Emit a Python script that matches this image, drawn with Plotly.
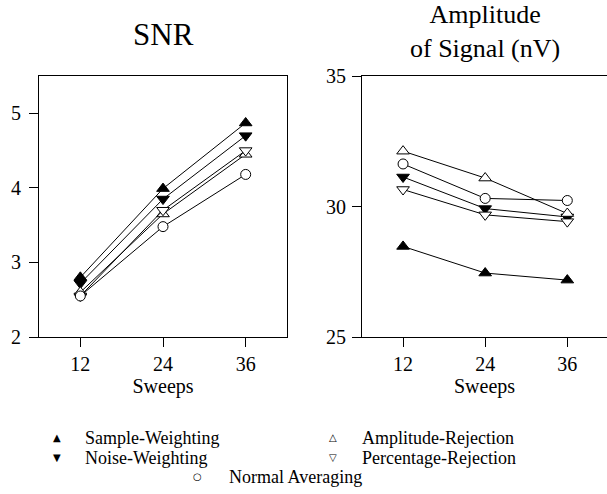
import plotly.graph_objects as go

sweeps = [12, 24, 36]
series_names = ["Sample-Weighting", "Noise-Weighting", "Amplitude-Rejection",
                "Percentage-Rejection", "Normal Averaging"]
snr_sample = [2.80, 3.99, 4.87]
snr_noise = [2.72, 3.85, 4.70]
snr_amp = [2.60, 3.65, 4.45]
snr_pct = [2.55, 3.70, 4.50]
snr_normal = [2.55, 3.48, 4.18]

amp_sample = [28.47, 27.45, 27.18]
amp_noise = [31.13, 29.92, 29.60]
amp_amp = [32.12, 31.09, 29.73]
amp_pct = [30.65, 29.68, 29.42]
amp_normal = [31.63, 30.31, 30.23]

snr_ticks = [2, 3, 4, 5]
amp_ticks = [25, 30, 35]

symbols = ["triangle-up", "triangle-down", "triangle-up", "triangle-down", "circle"]
fills = ["black", "black", "white", "white", "white"]
legend_syms = ["▲", "▼", "△", "▽", "○"]

FONT = "Liberation Serif"

fig = go.Figure()
snr_all = [snr_sample, snr_noise, snr_amp, snr_pct, snr_normal]
amp_all = [amp_sample, amp_noise, amp_amp, amp_pct, amp_normal]
for i, name in enumerate(series_names):
    size = 11 if symbols[i] != "circle" else 10
    mk = dict(symbol=symbols[i], size=size, color=fills[i],
              line=dict(color="black", width=1))
    fig.add_trace(go.Scatter(x=sweeps, y=snr_all[i], mode="lines+markers", name=name,
                             line=dict(color="black", width=1), marker=mk,
                             xaxis="x", yaxis="y", showlegend=False))
    fig.add_trace(go.Scatter(x=sweeps, y=amp_all[i], mode="lines+markers", name=name,
                             line=dict(color="black", width=1), marker=mk,
                             xaxis="x2", yaxis="y2", showlegend=False))

W, H = 607, 494
ydom = [1 - 337 / H, 1 - 76 / H]
axis_common = dict(showgrid=False, zeroline=False, showline=True, linecolor="black",
                   linewidth=1, ticks="outside", ticklen=9, tickcolor="black",
                   automargin=False,
                   tickfont=dict(family=FONT, size=20, color="black"))

fig.update_layout(
    width=W, height=H, margin=dict(l=0, r=0, t=0, b=0),
    paper_bgcolor="white", plot_bgcolor="white",
    font=dict(family=FONT, color="black"),
    xaxis=dict(domain=[39 / W, 287 / W], range=[6, 42], tickvals=sweeps, mirror=True,
               title=dict(text="Sweeps", font=dict(family=FONT, size=20), standoff=2),
               anchor="y", **axis_common),
    yaxis=dict(domain=ydom, range=[2, 5.5], tickvals=snr_ticks, mirror=True,
               anchor="x", ticklabelstandoff=4, **axis_common),
    xaxis2=dict(domain=[362 / W, 1.0], range=[6, 41.8], tickvals=sweeps, mirror=True,
                title=dict(text="Sweeps", font=dict(family=FONT, size=20), standoff=2),
                anchor="y2", **axis_common),
    yaxis2=dict(domain=ydom, range=[25, 35], tickvals=amp_ticks, mirror=False,
                anchor="x2", ticklabelstandoff=2, **axis_common),
)

ann = []
ann.append(dict(text="SNR", x=(39 + 287) / 2 / W, y=1 - 35 / H, xref="paper", yref="paper",
                showarrow=False, xanchor="center", yanchor="middle",
                font=dict(family=FONT, size=31, color="black")))
ann.append(dict(text="Amplitude<br>of Signal (nV)", x=(362 + 607) / 2 / W, y=1 - 32 / H,
                xref="paper", yref="paper", showarrow=False, xanchor="center", yanchor="middle",
                font=dict(family=FONT, size=26, color="black")))

legend_pos = [(57, 83, 437), (57, 83, 457), (333, 360, 437), (333, 360, 457), (197, 227, 476)]
for i, name in enumerate(series_names):
    sx, tx, py = legend_pos[i]
    ann.append(dict(text=legend_syms[i], x=sx / W, y=1 - py / H, xref="paper", yref="paper",
                    showarrow=False, xanchor="center", yanchor="middle",
                    font=dict(family="DejaVu Sans", size=10, color="black")))
    ann.append(dict(text=name, x=tx / W, y=1 - (py + 1) / H, xref="paper", yref="paper",
                    showarrow=False, xanchor="left", yanchor="middle",
                    font=dict(family=FONT, size=18, color="black")))
fig.update_layout(annotations=ann)

fig.write_html("out.html", config={"displayModeBar": False},
               post_script="document.body.style.margin='0px';")
